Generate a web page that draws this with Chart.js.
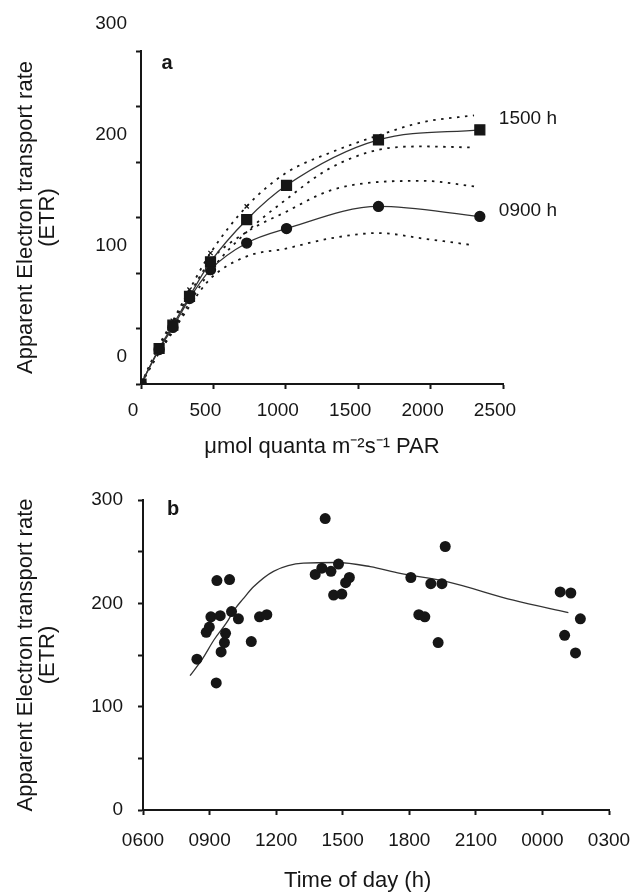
<!DOCTYPE html>
<html><head><meta charset="utf-8">
<script src="https://cdn.jsdelivr.net/npm/chart.js@4"></script>
<style>
html,body{margin:0;padding:0;background:#fff;}
#wrap{position:relative;width:633px;height:892px;background:#fff;}
#ca{position:absolute;left:0;top:0;}
#cb{position:absolute;left:0;top:460px;}
</style></head><body>
<div id="wrap"><canvas id="ca" width="633" height="460"></canvas><canvas id="cb" width="633" height="432"></canvas></div>
<script>
// ---------- Panel a: light response curves ----------
const parLevels = [0, 125, 220, 335, 480, 730, 1005, 1640, 2340];
const etr1500 = [0, 32, 53, 79, 110, 148, 179, 220, 229];
const etr0900 = [0, 31, 51, 77, 103, 127, 140, 160, 151];
const bandPar = [0, 125, 220, 335, 480, 730, 1000, 1300, 1640, 1950, 2300];
const upper1500 = [0, 35, 57, 85, 118, 160, 190, 208, 224, 236, 242];
const lower1500 = [0, 29, 49, 73, 102, 137, 166, 194, 211, 214, 213];
const upper0900 = [0, 33, 55, 81, 111, 137, 155, 174, 182, 183, 178];
const lower0900 = [0, 28, 47, 70, 95, 115, 122, 131, 136, 131, 125];
const seriesNames = ['1500 h', '0900 h'];
const parTicks = [0, 500, 1000, 1500, 2000, 2500];

// ---------- Panel b: diurnal course ----------
const timeOfDay = [8.43, 8.85, 8.99, 9.06, 9.48, 9.30, 9.52, 9.67, 9.72, 9.99, 10.3, 10.88, 11.25, 11.58, 9.33, 9.90,
  14.21, 13.76, 14.06, 14.47, 14.81, 15.3, 15.13, 14.59, 14.96, 18.07, 18.97, 19.47, 18.43, 18.7, 19.3, 19.62,
  24.8, 25.28, 25.0, 25.49, 25.71];
const etrDiurnal = [146, 172, 177, 187, 188, 123, 153, 162, 171, 192, 185, 163, 187, 189, 222, 223,
  282, 228, 234, 231, 238, 225, 220, 208, 209, 225, 219, 219, 189, 187, 162, 255,
  211, 210, 169, 152, 185];
const fitTime = [8.12, 8.67, 9.21, 9.76, 10.16, 10.5, 10.98, 11.88, 13.23, 14.74, 16.24, 17.59, 19.69, 22.69, 25.17];
const fitEtr = [130, 146, 165, 181, 195, 204, 216, 231, 239, 239.5, 235.5, 229, 221, 203, 191];
const timeTicks = [6, 9, 12, 15, 18, 21, 24, 27];

const FONT = '"Liberation Sans", Arial, Helvetica, sans-serif';
const INK = '#161616';
const pts = (xs, ys) => xs.map((x, i) => ({x, y: ys[i]}));

const textPlugin = {
  id: 'panelText',
  afterDatasetsDraw(chart, args, opts) {
    const ctx = chart.ctx; const {left, top} = chart.chartArea;
    ctx.save();
    ctx.fillStyle = INK;
    ctx.font = 'bold 20px ' + FONT;
    ctx.textAlign = 'center'; ctx.textBaseline = 'middle';
    ctx.fillText(opts.letter, left + opts.dx, top + opts.dy);
    (opts.seriesLabels || []).forEach(s => {
      const meta = chart.getDatasetMeta(s.dataset);
      const p = meta.data[meta.data.length - 1];
      ctx.font = '19px ' + FONT;
      ctx.textAlign = 'left';
      ctx.fillText(s.text, p.x + s.dx, p.y + s.dy);
    });
    ctx.restore();
  }
};

const tickFont = {family: FONT, size: 19};
const titleFont = {family: FONT, size: 22, lineHeight: 1.0};
const yCallback = v => (v % 100 === 0 ? String(v) : '');

function band(data, withCross) {
  return {
    data, showLine: true, borderColor: INK, borderWidth: 1.8, borderDash: [2.5, 5.5],
    cubicInterpolationMode: 'monotone', fill: false,
    pointStyle: 'crossRot', pointBorderColor: INK, pointBorderWidth: 1.3,
    pointRadius: withCross ? (c => (c.raw && c.raw.x > 200 && c.raw.x <= 730 ? 3 : 0)) : 0
  };
}

new Chart(document.getElementById('ca'), {
  type: 'scatter',
  data: {
    datasets: [
      {data: pts(parLevels, etr1500), showLine: true, borderColor: '#333', borderWidth: 1.3,
       cubicInterpolationMode: 'monotone', pointStyle: 'rect', pointRadius: 7,
       pointBackgroundColor: INK, pointBorderColor: INK},
      {data: pts(parLevels, etr0900), showLine: true, borderColor: '#333', borderWidth: 1.3,
       cubicInterpolationMode: 'monotone', pointStyle: 'circle', pointRadius: 5,
       pointBackgroundColor: INK, pointBorderColor: INK},
      band(pts(bandPar, upper1500), true),
      band(pts(bandPar, lower1500), false),
      band(pts(bandPar, upper0900), false),
      band(pts(bandPar, lower0900), false)
    ]
  },
  options: {
    responsive: false, animation: false,
    layout: {padding: {top: 51, left: 10, right: 130, bottom: 0}},
    plugins: {legend: {display: false}, tooltip: {enabled: false},
      panelText: {letter: 'a', dx: 26, dy: 12, seriesLabels: [
        {dataset: 0, text: seriesNames[0], dx: 19, dy: -11},
        {dataset: 1, text: seriesNames[1], dx: 19, dy: -6}]}},
    scales: {
      x: {type: 'linear', min: 0, max: 2500,
        afterBuildTicks: s => { s.ticks = parTicks.map(v => ({value: v})); },
        afterFit: s => { s.height = 76; },
        ticks: {font: tickFont, color: INK, padding: 10, labelOffset: -8, maxRotation: 0, autoSkip: false,
          callback: v => String(v)},
        grid: {drawOnChartArea: false, drawTicks: true, tickLength: 5, tickWidth: 2, tickColor: INK},
        border: {color: INK, width: 2},
        title: {display: true, text: 'μmol quanta m⁻²s⁻¹ PAR', font: titleFont, color: INK, padding: {top: 0, bottom: 2}}},
      y: {type: 'linear', min: 0, max: 300,
        afterFit: s => { s.width = 131; },
        ticks: {stepSize: 50, font: tickFont, color: INK, padding: 9, labelOffset: -27, callback: yCallback, autoSkip: false},
        grid: {drawOnChartArea: false, drawTicks: true, tickLength: 5, tickWidth: 2, tickColor: INK},
        border: {color: INK, width: 2},
        title: {display: true, text: ['Apparent Electron transport rate', '(ETR)'], font: titleFont, color: INK, padding: {top: 5, bottom: 0}}}
    }
  },
  plugins: [textPlugin]
});

new Chart(document.getElementById('cb'), {
  type: 'scatter',
  data: {
    datasets: [
      {data: pts(timeOfDay, etrDiurnal), showLine: false, pointStyle: 'circle', pointRadius: 5.5,
       pointBackgroundColor: INK, pointBorderColor: INK, pointBorderWidth: 0},
      {data: pts(fitTime, fitEtr), showLine: true, borderColor: '#333', borderWidth: 1.3,
       cubicInterpolationMode: 'monotone', pointRadius: 0}
    ]
  },
  options: {
    responsive: false, animation: false,
    layout: {padding: {top: 40, left: 10, right: 24, bottom: 0}},
    plugins: {legend: {display: false}, tooltip: {enabled: false},
      panelText: {letter: 'b', dx: 30, dy: 9}},
    scales: {
      x: {type: 'linear', min: 6, max: 27,
        afterBuildTicks: s => { s.ticks = timeTicks.map(v => ({value: v})); },
        afterFit: s => { s.height = 82; s.paddingRight = 0; s.paddingLeft = 0; },
        ticks: {font: tickFont, color: INK, padding: 14, maxRotation: 0, autoSkip: false,
          callback: v => String((v % 24) * 100).padStart(4, '0')},
        grid: {drawOnChartArea: false, drawTicks: true, tickLength: 5, tickWidth: 2, tickColor: INK},
        border: {color: INK, width: 2},
        title: {display: true, text: 'Time of day (h)' + '\u00a0'.repeat(6), font: titleFont, color: INK, padding: {top: 0, bottom: 0}}},
      y: {type: 'linear', min: 0, max: 300,
        afterFit: s => { s.width = 133; },
        ticks: {stepSize: 50, font: tickFont, color: INK, padding: 15, callback: yCallback, autoSkip: false},
        grid: {drawOnChartArea: false, drawTicks: true, tickLength: 5, tickWidth: 2, tickColor: INK},
        border: {color: INK, width: 2},
        title: {display: true, text: ['Apparent Electron transport rate', '(ETR)'], font: titleFont, color: INK, padding: {top: 5, bottom: 0}}}
    }
  },
  plugins: [textPlugin]
});
</script>
</body></html>
